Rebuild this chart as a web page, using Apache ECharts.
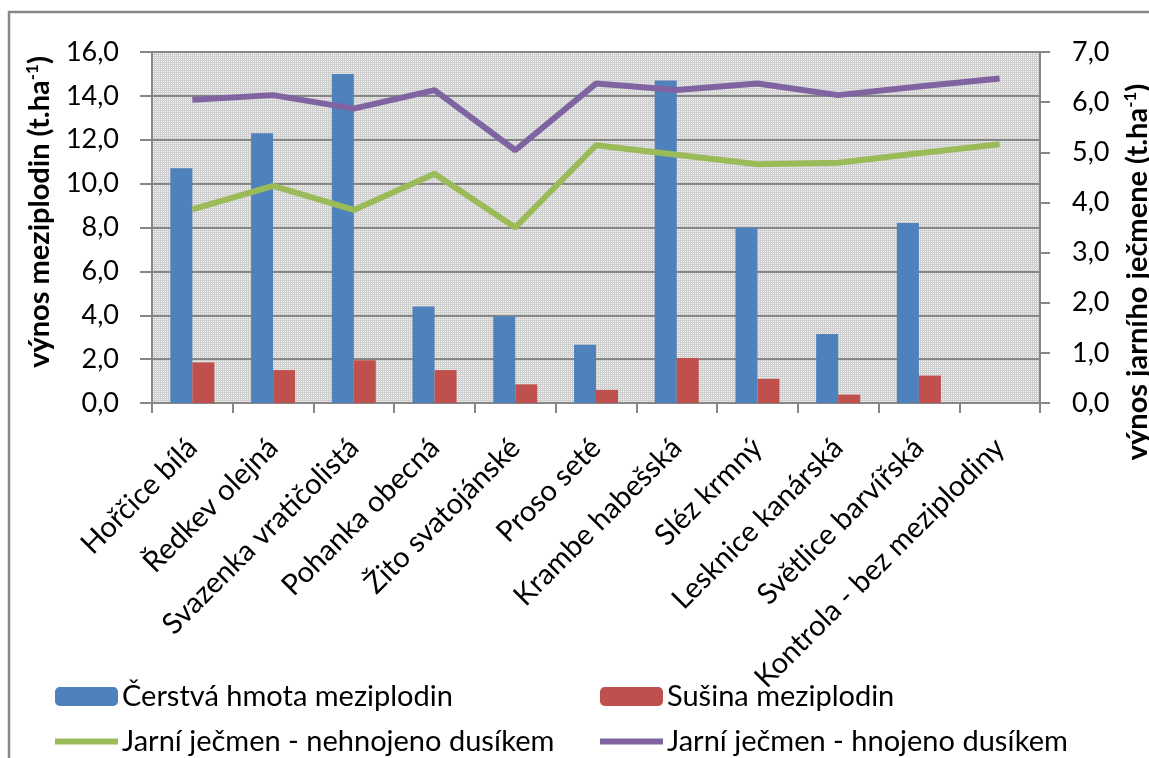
<!DOCTYPE html>
<html>
<head>
<meta charset="utf-8">
<script src="https://cdn.jsdelivr.net/npm/echarts@6/dist/echarts.min.js"></script>
<style>
  html, body { margin: 0; padding: 0; background: #fff; }
  #chart { width: 1149px; height: 758px; }
</style>
</head>
<body>
<div id="chart"></div>
<script>
// Catch crops and their yields (t/ha)
const categories = [
  'Hořčice bílá', 'Ředkev olejná', 'Svazenka vratičolistá', 'Pohanka obecná',
  'Žito svatojánské', 'Proso seté', 'Krambe habešská', 'Sléz krmný',
  'Lesknice kanárská', 'Světlice barvířská', 'Kontrola - bez meziplodiny'
];
const freshMass = [10.7, 12.3, 15.0, 4.4, 3.95, 2.65, 14.7, 8.0, 3.15, 8.2, null];
const dryMass = [1.85, 1.5, 1.95, 1.5, 0.85, 0.6, 2.05, 1.1, 0.38, 1.25, null];
const barleyNoN = [3.86, 4.33, 3.85, 4.57, 3.5, 5.14, 4.95, 4.76, 4.79, 4.98, 5.16];
const barleyN = [6.05, 6.14, 5.87, 6.24, 5.04, 6.37, 6.24, 6.37, 6.14, 6.31, 6.47];

const leftTicks = { min: 0, max: 16, interval: 2 };
const rightTicks = { min: 0, max: 7, interval: 1 };

const seriesNames = [
  'Čerstvá hmota meziplodin',
  'Sušina meziplodin',
  'Jarní ječmen - nehnojeno dusíkem',
  'Jarní ječmen - hnojeno dusíkem'
];

const FONT = 'Lato, "Noto Sans", sans-serif';
const AXIS_GRAY = '#868686';

// dotted grey fill for the plot area
function dotPattern() {
  const c = document.createElement('canvas');
  c.width = 2; c.height = 2;
  const g = c.getContext('2d');
  g.fillStyle = '#cfcfcf';
  g.fillRect(0, 0, 2, 2);
  g.fillStyle = '#f4f4f4';
  g.fillRect(1, 1, 1, 1);
  return c;
}

const fmt = v => v.toFixed(1).replace('.', ',');

const titleRich = {
  b: { fontFamily: FONT, fontWeight: 'bold', fontSize: 29, color: '#000' },
  s: { fontFamily: FONT, fontWeight: 'bold', fontSize: 17, color: '#000', verticalAlign: 'top', padding: [0, 0, 14, 0] }
};

function legendItem(name, left, top, isLine) {
  return {
    data: [isLine ? { name: name, icon: 'rect' } : name],
    left: left, top: top, orient: 'horizontal',
    itemWidth: 63, itemHeight: isLine ? 6 : 19, itemGap: 0,
    padding: 0,
    textStyle: { fontFamily: FONT, fontSize: 29, color: '#000', padding: [0, 0, 0, -1] },
    selectedMode: false
  };
}

const chart = echarts.init(document.getElementById('chart'), null, { renderer: 'canvas' });

chart.setOption({
  animation: false,
  backgroundColor: '#fff',
  grid: {
    left: 152, top: 52, right: 109, bottom: 355,
    show: true,
    backgroundColor: { image: dotPattern(), repeat: 'repeat' },
    borderWidth: 0
  },
  legend: [
    legendItem(seriesNames[0], 55, 682, false),
    legendItem(seriesNames[1], 600, 682, false),
    legendItem(seriesNames[2], 55, 727, true),
    legendItem(seriesNames[3], 600, 727, true)
  ],
  xAxis: {
    type: 'category',
    data: categories,
    boundaryGap: true,
    axisLine: { lineStyle: { color: AXIS_GRAY, width: 2 } },
    axisTick: { show: true, length: 10, lineStyle: { color: AXIS_GRAY, width: 2 } },
    axisLabel: {
      interval: 0, rotate: 45, margin: 40,
      fontFamily: FONT, fontSize: 29, color: '#000'
    }
  },
  yAxis: [
    {
      type: 'value',
      min: leftTicks.min, max: leftTicks.max, interval: leftTicks.interval,
      axisLine: { show: true, lineStyle: { color: AXIS_GRAY, width: 2 } },
      axisTick: { show: true, length: 12, lineStyle: { color: AXIS_GRAY, width: 2 } },
      splitLine: { show: true, lineStyle: { color: AXIS_GRAY, width: 2 } },
      axisLabel: { margin: 33, fontFamily: FONT, fontSize: 27, color: '#000', formatter: fmt }
    },
    {
      type: 'value',
      position: 'right',
      min: rightTicks.min, max: rightTicks.max, interval: rightTicks.interval,
      axisLine: { show: true, lineStyle: { color: AXIS_GRAY, width: 2 } },
      axisTick: { show: true, length: 10, lineStyle: { color: AXIS_GRAY, width: 2 } },
      splitLine: { show: false },
      axisLabel: { margin: 32, fontFamily: FONT, fontSize: 27, color: '#000', formatter: fmt }
    }
  ],
  graphic: [
    {
      type: 'rect', silent: true, z: -1,
      shape: { x: 9, y: 12, width: 1200, height: 800 },
      style: { fill: 'none', stroke: AXIS_GRAY, lineWidth: 2.5 }
    },
    {
      type: 'text', x: 40, y: 212, rotation: Math.PI / 2,
      style: {
        text: '{b|výnos meziplodin (t.ha}{s|-1}{b|)}', rich: titleRich,
        align: 'center', verticalAlign: 'middle'
      }
    },
    {
      type: 'text', x: 1138, y: 272, rotation: Math.PI / 2,
      style: {
        text: '{b|výnos jarního ječmene (t.ha}{s|-1}{b|)}', rich: titleRich,
        align: 'center', verticalAlign: 'middle'
      }
    }
  ],
  series: [
    {
      name: seriesNames[0], type: 'bar', data: freshMass,
      barWidth: 22, barGap: '0%',
      itemStyle: { color: '#4F81BD' }
    },
    {
      name: seriesNames[1], type: 'bar', data: dryMass,
      barWidth: 22, barGap: '0%',
      itemStyle: { color: '#C0504D' }
    },
    {
      name: seriesNames[2], type: 'line', yAxisIndex: 1, data: barleyNoN,
      symbol: 'none', z: 5,
      lineStyle: { color: '#9BBB59', width: 6 },
      itemStyle: { color: '#9BBB59' }
    },
    {
      name: seriesNames[3], type: 'line', yAxisIndex: 1, data: barleyN,
      symbol: 'none', z: 5,
      lineStyle: { color: '#8064A2', width: 6 },
      itemStyle: { color: '#8064A2' }
    }
  ]
});
</script>
</body>
</html>
